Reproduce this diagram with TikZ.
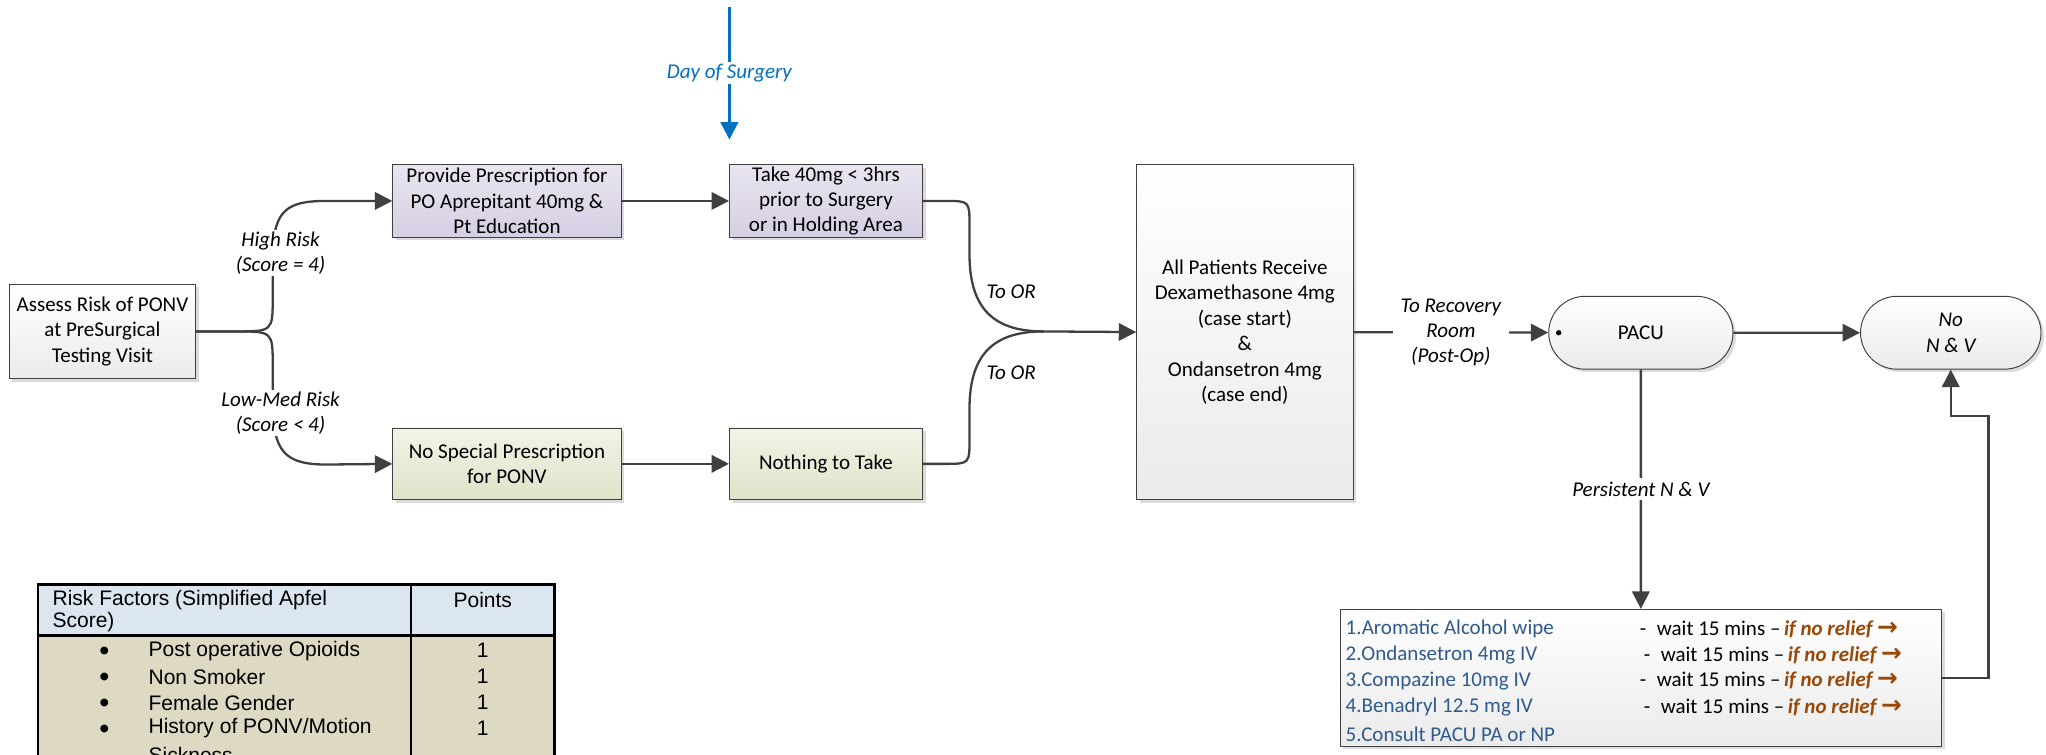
\documentclass[tikz,border=0pt]{standalone}
\usepackage{fontspec}
\setmainfont{Carlito}
\newfontfamily\arialfont{Liberation Sans}
\newfontfamily\arrowfont{DejaVu Sans}
\usetikzlibrary{shapes.misc,arrows.meta,shadows}

\definecolor{linegray}{HTML}{404040}
\definecolor{daysblue}{HTML}{0070C0}
\definecolor{lavtop}{HTML}{E9E5F0}
\definecolor{lavbot}{HTML}{D6CEE3}
\definecolor{grntop}{HTML}{F0F4E6}
\definecolor{grnbot}{HTML}{DDE4C9}
\definecolor{hdrblue}{HTML}{DCE6F1}
\definecolor{bodytan}{HTML}{DDD9C3}
\definecolor{stepblue}{HTML}{2F5B8C}
\definecolor{reliefbrown}{HTML}{984807}

\newcommand{\relief}{{\color{reliefbrown}\bfseries\itshape if no relief {\arrowfont\bfseries\fontsize{13}{13}\selectfont →}}}

\tikzset{
  box/.style={draw=linegray, line width=0.5pt, align=center, inner xsep=2pt, inner ysep=0pt,
    drop shadow={shadow xshift=1.6pt, shadow yshift=-1.6pt, fill=black!14, opacity=1}},
  greybox/.style={box, top color=white, bottom color=black!8},
  lavbox/.style={box, top color=lavtop, bottom color=lavbot},
  grnbox/.style={box, top color=grntop, bottom color=grnbot},
  pill/.style={greybox, rounded rectangle, minimum width=3.53cm, minimum height=1.34cm},
  conn/.style={draw=linegray, line width=1.2pt, -{Triangle[length=3.2mm,width=3.2mm]}},
  plain/.style={draw=linegray, line width=1.2pt},
  dayarrow/.style={draw=daysblue, line width=1.2pt, -{Triangle[length=3.2mm,width=3.2mm]}},
  lbl/.style={font=\fontsize{11}{13.3}\selectfont\itshape, align=center},
  tbl/.style={font=\arialfont\fontsize{11}{13.6}\selectfont, inner sep=0pt},
  bullet/.style={font=\arialfont\fontsize{15}{15}\selectfont, inner sep=0pt},
  txt/.style={inner sep=0pt, anchor=west},
}

\begin{document}
\begin{tikzpicture}[x=0.024cm, y=-0.024cm, font=\fontsize{11}{13.3}\selectfont]
\useasboundingbox (0,0) rectangle (1568,578);

% boxes
\node[greybox, minimum width=3.43cm, minimum height=1.73cm] (assess) at (78.5,254) {Assess Risk of PONV\\at PreSurgical\\Testing Visit};
\node[lavbox, minimum width=4.2cm, minimum height=1.34cm] (provide) at (388.5,154) {Provide Prescription for\\PO Aprepitant 40mg \&\\Pt Education};
\node[lavbox, minimum width=3.55cm, minimum height=1.34cm] (take) at (633,154) {Take 40mg < 3hrs\\prior to Surgery\\or in Holding Area};
\node[grnbox, minimum width=4.2cm, minimum height=1.32cm] (nospecial) at (388.5,355.5) {No Special Prescription\\for PONV};
\node[grnbox, minimum width=3.55cm, minimum height=1.32cm] (nothing) at (633,355.5) {Nothing to Take};
\node[greybox, minimum width=3.98cm, minimum height=6.17cm] (allpts) at (954,254.5) {All Patients Receive\\Dexamethasone 4mg\\(case start)\\\&\\Ondansetron 4mg\\(case end)};
\node[pill] (pacu) at (1257.5,255) {PACU};
\fill (pacu.west) ++(8,0) circle (1.4pt);
\node[pill, minimum width=3.46cm, font=\fontsize{11}{13.3}\selectfont\itshape] (nonv) at (1495,255) {No\\N \& V};
\node[greybox, minimum width=11.06cm, minimum height=2.52cm] (treat) at (1257.5,519.5) {};

% day of surgery
\coordinate (daytop) at (559,5);
\coordinate (daytip) at (559,107);
\draw[dayarrow] (daytop) -- (daytip) node[midway, lbl, text=daysblue, fill=white, inner sep=1pt] {Day of Surgery};

% risk fork
\draw[conn] (assess.east) -- (180,254) .. controls (209,254) .. (209,228) -- (209,200) .. controls (209,162) and (218,154) .. (250,154) -- (provide.west);
\draw[conn] (assess.east) -- (180,254) .. controls (209,254) .. (209,280) -- (209,308) .. controls (209,346) and (218,356) .. (250,356) -- (nospecial.west);
\node[lbl, fill=white, inner sep=1pt] (hirisk) at (215,194) {High Risk\\(Score = 4)};
\node[lbl, fill=white, inner sep=1pt] (lorisk) at (215,316.5) {Low-Med Risk\\(Score < 4)};

\draw[conn] (provide) -- (take);
\draw[conn] (nospecial) -- (nothing);

% to OR
\draw[conn] (take.east) -- (724,154) .. controls (743,154) .. (743,173) -- (743,195) .. controls (743,240) and (765,254) .. (800,254) -- (allpts.west);
\draw[plain] (nothing.east) -- (724,355.5) .. controls (743,355.5) .. (743,336) -- (743,313) .. controls (743,268) and (765,254) .. (800,254);
\node[lbl, anchor=west] (toor1) at (751,223.6) {To OR};
\node[lbl, anchor=west] (toor2) at (751,286) {To OR};

% recovery
\draw[conn] (allpts) -- (pacu) node[midway, lbl, fill=white, inner xsep=4pt, inner ysep=1pt] {To Recovery\\Room\\(Post-Op)};
\draw[conn] (pacu) -- (nonv);
\draw[conn] (pacu) -- (treat) node[midway, lbl, fill=white, inner sep=2pt] {Persistent N \& V};
\draw[conn] (treat.east) -| (1524,319) -| (nonv.south);

% treatment steps
\node[txt, text=stepblue] (step1) at (1031,482.3) {1.Aromatic Alcohol wipe};
\node[txt, text=stepblue] (step2) at (1031,502) {2.Ondansetron 4mg IV};
\node[txt, text=stepblue] (step3) at (1031,521.7) {3.Compazine 10mg IV};
\node[txt, text=stepblue] (step4) at (1031,542) {4.Benadryl 12.5 mg IV};
\node[txt, text=stepblue] (step5) at (1031,562.5) {5.Consult PACU PA or NP};
\node[txt] (wait1) at (1256.5,482.3) {-\enspace wait 15 mins –\,\relief};
\node[txt] (wait2) at (1259.5,502) {-\enspace wait 15 mins –\,\relief};
\node[txt] (wait3) at (1256.5,521.7) {-\enspace wait 15 mins –\,\relief};
\node[txt] (wait4) at (1259.5,542) {-\enspace wait 15 mins –\,\relief};

% apfel table
\fill[hdrblue] (29,448) rectangle (425,487);
\fill[bodytan] (29,487) rectangle (425,600);
\draw[line width=1.3pt] (29,448) rectangle (425,600) (29,487) -- (425,487) (315,448) -- (315,600);
\node[tbl, anchor=west] at (40,460) {Risk Factors (Simplified Apfel};
\node[tbl, anchor=west] at (40,477) {Score)};
\node[tbl] at (370,460) {Points};
\node[bullet] at (80,501) {•};
\node[bullet] at (80,521) {•};
\node[bullet] at (80,541) {•};
\node[bullet] at (80,560.5) {•};
\node[tbl, anchor=west] at (113.6,498.7) {Post operative Opioids};
\node[tbl, anchor=west] at (113.6,518.6) {Non Smoker};
\node[tbl, anchor=west] at (113.6,538.5) {Female Gender};
\node[tbl, anchor=west] at (113.6,558.2) {History of PONV/Motion};
\node[tbl, anchor=west] at (113.6,578.5) {Sickness};
\node[tbl] at (370,498.7) {1};
\node[tbl] at (370,518.6) {1};
\node[tbl] at (370,538.5) {1};
\node[tbl] at (370,558.2) {1};
\end{tikzpicture}
\end{document}
